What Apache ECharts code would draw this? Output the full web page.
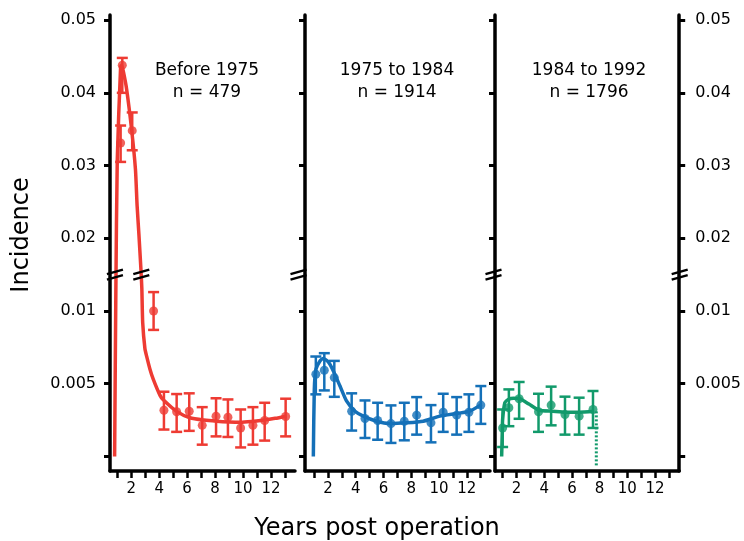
<!DOCTYPE html>
<html><head><meta charset="utf-8">
<script src="https://cdn.jsdelivr.net/npm/echarts@6/dist/echarts.min.js"></script>
<style>html,body{margin:0;padding:0;background:#fff}#c{width:744px;height:541px}</style>
</head><body><div id="c"></div>
<script>
// ---- tick values / labels ----
const yTickValues = [0, 0.005, 0.01, 0.02, 0.03, 0.04, 0.05];
const yTickLabels = ['', '0.005', '0.01', '0.02', '0.03', '0.04', '0.05'];
const xTickValues = [1, 2, 3, 4, 5, 6, 7, 8, 9, 10, 11, 12, 13];
const xLabelValues = [2, 4, 6, 8, 10, 12];
const panelTitles = ['Before 1975', '1975 to 1984', '1984 to 1992'];
const panelCounts = ['n = 479', 'n = 1914', 'n = 1796'];
const xTitle = 'Years post operation';
const yTitle = 'Incidence';

// ---- Before 1975 (red) ----
const redYears = [1.24, 1.36, 2.07, 3.6, 4.34, 5.25, 6.15, 7.08, 8.07, 8.92, 9.83, 10.71, 11.55, 13.05];
const redVals  = [0.0331, 0.0438, 0.0348, 0.0100, 0.00318, 0.00307, 0.00311, 0.00214, 0.00277, 0.0027, 0.00196, 0.00214, 0.00247, 0.00275];
const redLo    = [0.0305, 0.0400, 0.0321, 0.0087, 0.00185, 0.00169, 0.00176, 0.00081, 0.00138, 0.00134, 0.00062, 0.00081, 0.00109, 0.00138];
const redHi    = [0.0355, 0.0448, 0.0373, 0.0113, 0.00445, 0.00429, 0.00434, 0.00339, 0.0040, 0.00392, 0.00323, 0.00339, 0.00369, 0.00397];
const redCurveX = [0.81, 0.9, 1.0, 1.24, 1.32, 1.45, 1.67, 2.03, 2.3, 2.42, 2.55, 2.7, 2.76, 2.82, 2.98, 3.1, 3.34, 3.58, 4.06, 4.29, 5.25, 6.2, 7.2, 8.1, 9.0, 9.8, 10.6, 11.4, 12.3, 13.1];
const redCurveY = [0, 0.0115, 0.0308, 0.0436, 0.0438, 0.0428, 0.0405, 0.0349, 0.0295, 0.0245, 0.0205, 0.0155, 0.0115, 0.0092, 0.0074, 0.0069, 0.0060, 0.0053, 0.0042, 0.0039, 0.0031, 0.00266, 0.0025, 0.00242, 0.00237, 0.00235, 0.0024, 0.00249, 0.00262, 0.00277];

// ---- 1975 to 1984 (blue) ----
const blueYears = [1.13, 1.74, 2.46, 3.71, 4.67, 5.58, 6.54, 7.5, 8.39, 9.42, 10.3, 11.27, 12.15, 13.01];
const blueVals  = [0.00565, 0.00593, 0.00542, 0.00311, 0.00261, 0.00247, 0.00226, 0.00242, 0.00284, 0.00231, 0.00304, 0.00284, 0.00304, 0.00353];
const blueLo    = [0.00427, 0.00454, 0.0041, 0.00178, 0.00127, 0.00115, 0.00093, 0.00111, 0.0015, 0.00097, 0.00169, 0.0015, 0.00169, 0.00224];
const blueHi    = [0.00687, 0.0071, 0.00657, 0.00434, 0.00385, 0.00369, 0.00351, 0.00369, 0.00408, 0.00353, 0.00431, 0.00408, 0.00427, 0.00484];
const blueCurveX = [0.95, 1.02, 1.14, 1.43, 1.67, 2.03, 2.39, 2.87, 3.35, 3.95, 4.55, 5.5, 6.47, 7.67, 8.86, 10.06, 11.27, 12.22, 13.06];
const blueCurveY = [0, 0.0046, 0.0060, 0.00657, 0.00674, 0.0065, 0.00588, 0.00484, 0.0038, 0.00311, 0.00277, 0.00242, 0.00226, 0.00231, 0.00242, 0.00277, 0.00295, 0.00311, 0.00358];

// ---- 1984 to 1992 (green) ----
const greenYears = [1.0, 1.45, 2.19, 3.59, 4.5, 5.5, 6.52, 7.52];
const greenVals  = [0.00196, 0.00335, 0.00397, 0.00307, 0.00353, 0.00288, 0.00277, 0.00323];
const greenLo    = [0.00065, 0.00208, 0.00259, 0.00169, 0.00214, 0.0015, 0.0015, 0.00196];
const greenHi    = [0.00323, 0.00461, 0.00512, 0.00431, 0.0048, 0.00411, 0.00404, 0.0045];
const greenCurveX = [0.93, 0.97, 1.0, 1.16, 1.4, 1.8, 2.24, 2.9, 3.62, 4.6, 5.55, 6.52, 7.6];
const greenCurveY = [0, 0.0015, 0.00254, 0.00369, 0.00392, 0.0040, 0.00397, 0.0036, 0.00318, 0.00311, 0.00304, 0.00304, 0.0031];
const greenDropX = [7.76, 7.76];
const greenDropY = [0.0031, -0.0007];

// ---- broken axis transform: lower part 0.005 per unit, upper part 0.01 per unit ----
const BREAK_T = 2.5;
function T(v) {
  if (v <= 0.0125) return v / 0.005;
  if (v >= 0.015) return 3 + (v - 0.02) / 0.01;
  return BREAK_T;
}

const FONT = 'DejaVu Sans';
const RED = '#EE3B33', BLUE = '#1470B8', GREEN = '#129A6B';
const xMins = [0.48, 0.35, 0.45], xMaxs = [13.72, 13.67, 13.74];

const chart = echarts.init(document.getElementById('c'), null, {renderer: 'canvas'});

function yAxisCfg(grid, showLabel, position) {
  return {
    type: 'value', gridIndex: grid, position: position, min: -0.2, max: 6.07,
    splitLine: {show: false},
    axisLine: {show: true, onZero: false, lineStyle: {color: '#000', width: 3.5}},
    axisTick: {show: true, length: 6, customValues: yTickValues.map(T), lineStyle: {color: '#000', width: 3}},
    axisLabel: {
      show: showLabel, customValues: yTickValues.map(T), margin: position === 'right' ? 16 : 14,
      color: '#000', fontSize: 16, fontFamily: FONT,
      formatter: function (val) {
        for (let i = 0; i < yTickValues.length; i++) if (Math.abs(T(yTickValues[i]) - val) < 1e-6) return yTickLabels[i];
        return '';
      }
    }
  };
}
function xAxisCfg(grid) {
  return {
    type: 'value', gridIndex: grid, min: xMins[grid], max: xMaxs[grid],
    splitLine: {show: false},
    axisLine: {show: true, onZero: false, lineStyle: {color: '#000', width: 3.5}},
    axisTick: {show: true, length: 7, customValues: xTickValues, lineStyle: {color: '#000', width: 2.5}},
    axisLabel: {customValues: xLabelValues, margin: 11, color: '#000', fontSize: 15, fontFamily: FONT}
  };
}
function curve(idx, xs, ys, color, dotted) {
  return {
    type: 'line', xAxisIndex: idx, yAxisIndex: idx, showSymbol: false, smooth: dotted ? false : 0.2,
    data: xs.map((x, i) => [x, T(ys[i])]), silent: true, z: 4,
    lineStyle: {color: color, width: dotted ? 3 : 3.5, type: dotted ? [2, 2] : 'solid'}
  };
}
function points(idx, xs, ys, color) {
  return {
    type: 'scatter', xAxisIndex: idx, yAxisIndex: idx, symbol: 'circle', symbolSize: 9,
    data: xs.map((x, i) => [x, T(ys[i])]), itemStyle: {color: color}, silent: true, z: 5
  };
}
function errBars(idx, xs, lo, hi, color) {
  return {
    type: 'custom', xAxisIndex: idx, yAxisIndex: idx, silent: true, z: 3,
    data: xs.map((x, i) => [x, T(lo[i]), T(hi[i])]),
    encode: {x: 0, y: [1, 2]},
    renderItem: function (params, api) {
      const a = api.coord([api.value(0), api.value(1)]);
      const b = api.coord([api.value(0), api.value(2)]);
      const w = 5.5;
      const st = {stroke: color, lineWidth: 2.5};
      return {type: 'group', children: [
        {type: 'line', shape: {x1: a[0], y1: a[1], x2: b[0], y2: b[1]}, style: st},
        {type: 'line', shape: {x1: a[0] - w, y1: a[1], x2: a[0] + w, y2: a[1]}, style: st},
        {type: 'line', shape: {x1: b[0] - w, y1: b[1], x2: b[0] + w, y2: b[1]}, style: st}
      ]};
    }
  };
}

const option = {
  animation: false,
  backgroundColor: '#fff',
  grid: [
    {left: 110, top: 15, width: 185, height: 456},
    {left: 305, top: 15, width: 185, height: 456},
    {left: 495, top: 15, width: 186, height: 456}
  ],
  xAxis: [xAxisCfg(0), xAxisCfg(1), xAxisCfg(2)],
  yAxis: [yAxisCfg(0, true, 'left'), yAxisCfg(1, false, 'left'), yAxisCfg(2, false, 'left'), yAxisCfg(2, true, 'right')],
  series: [
    errBars(0, redYears, redLo, redHi, RED),
    curve(0, redCurveX, redCurveY, RED),
    points(0, redYears, redVals, RED),
    errBars(1, blueYears, blueLo, blueHi, BLUE),
    curve(1, blueCurveX, blueCurveY, BLUE),
    points(1, blueYears, blueVals, BLUE),
    errBars(2, greenYears, greenLo, greenHi, GREEN),
    curve(2, greenCurveX, greenCurveY, GREEN),
    curve(2, greenDropX, greenDropY, GREEN, true),
    points(2, greenYears, greenVals, GREEN)
  ]
};
chart.setOption(option);

// ---- texts and axis-break marks ----
const g = [];
const titleX = [207, 397, 589];
for (let i = 0; i < 3; i++) {
  g.push({type: 'text', x: titleX[i], y: 71, z: 10, style: {text: panelTitles[i], textAlign: 'center', textVerticalAlign: 'middle', fontSize: 17, fontFamily: FONT, fill: '#000'}});
  g.push({type: 'text', x: titleX[i], y: 93, z: 10, style: {text: panelCounts[i], textAlign: 'center', textVerticalAlign: 'middle', fontSize: 17, fontFamily: FONT, fill: '#000'}});
}
g.push({type: 'text', x: 377, y: 529, z: 10, style: {text: xTitle, textAlign: 'center', textVerticalAlign: 'middle', fontSize: 24, fontFamily: FONT, fill: '#000'}});
g.push({type: 'text', x: 22, y: 235, rotation: Math.PI / 2, z: 10, style: {text: yTitle, textAlign: 'center', textVerticalAlign: 'middle', fontSize: 24, fontFamily: FONT, fill: '#000'}});

function breakMark(cx, cy) {
  const st = {stroke: '#000', lineWidth: 2.5};
  g.push({type: 'line', z: 10, shape: {x1: cx - 8, y1: cy - 0.5, x2: cx + 8, y2: cy - 5}, style: st});
  g.push({type: 'line', z: 10, shape: {x1: cx - 8, y1: cy + 5, x2: cx + 8, y2: cy + 0.5}, style: st});
}
const p0 = chart.convertToPixel({xAxisIndex: 0, yAxisIndex: 0}, [xMins[0], BREAK_T]);
const pRise = chart.convertToPixel({xAxisIndex: 0, yAxisIndex: 0}, [0.9, BREAK_T]);
const pFall = chart.convertToPixel({xAxisIndex: 0, yAxisIndex: 0}, [2.72, BREAK_T]);
const p1 = chart.convertToPixel({xAxisIndex: 1, yAxisIndex: 1}, [xMins[1], BREAK_T]);
const p2 = chart.convertToPixel({xAxisIndex: 2, yAxisIndex: 2}, [xMins[2], BREAK_T]);
const p3 = chart.convertToPixel({xAxisIndex: 2, yAxisIndex: 2}, [xMaxs[2], BREAK_T]);
breakMark((p0[0] + pRise[0]) / 2 + 2, p0[1]);
breakMark(pFall[0], p0[1]);
breakMark(p1[0] - 6.5, p1[1]);
breakMark(p2[0] - 1.5, p2[1]);
breakMark(p3[0] + 0.5, p3[1]);
chart.setOption({graphic: g});
</script></body></html>
